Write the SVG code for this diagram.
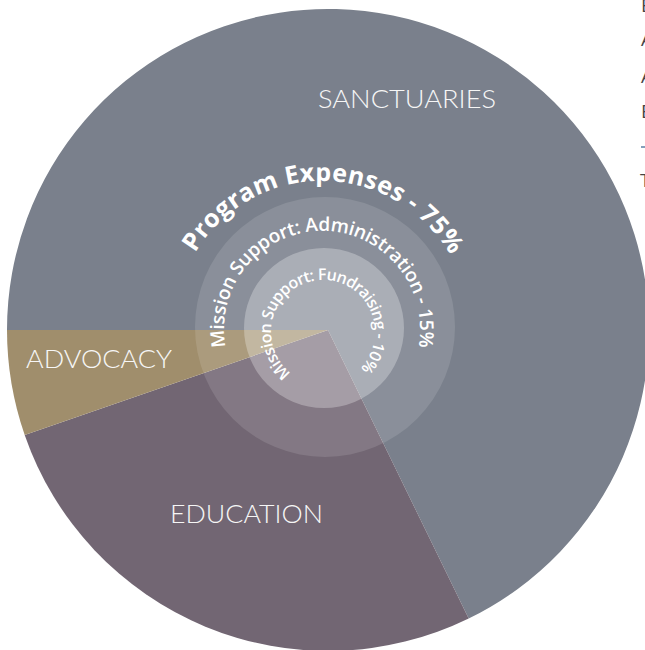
<svg xmlns="http://www.w3.org/2000/svg" width="645" height="650" viewBox="0 0 645 650">
  <defs>
    <style>
      .label { font-family: Lato, "Open Sans", "Liberation Sans", sans-serif; font-weight: 300; font-size: 25px; fill: #f6f6f6; }
      .arc { font-family: "Open Sans", "Liberation Sans", sans-serif; fill: #ffffff; }
      .side { font-family: "Open Sans", "Liberation Sans", sans-serif; font-size: 19px; fill: #454545; }
    </style>
    <path id="pProgram" d="M195.1,252.8 A148,148 0 0 1 448.9,405.2 A148,148 0 0 1 195.1,252.8"/>
    <path id="pAdmin" d="M225.6,346.9 A98,98 0 0 1 418.4,311.1 A98,98 0 0 1 225.6,346.9"/>
    <path id="pFund" d="M291,373 A52,52 0 0 1 355,291 A52,52 0 0 1 291,373"/>
  </defs>
  <rect width="645" height="650" fill="#ffffff"/>

  <g id="sanctuaries">
    <path d="M328,330 L7,330 A321,321 0 1 1 468.7,618.5 Z" fill="#7a808c"/>
  </g>
  <g id="education">
    <path d="M328,330 L468.7,618.5 A321,321 0 0 1 24.7,435 Z" fill="#726673"/>
  </g>
  <g id="advocacy">
    <path d="M328,330 L24.7,435 A321,321 0 0 1 7,330 Z" fill="#a08e6c"/>
  </g>

  <g id="ring-administration">
    <circle cx="325" cy="327" r="130" fill="#ffffff" fill-opacity="0.12"/>
  </g>
  <g id="ring-fundraising">
    <circle cx="324" cy="328" r="80" fill="#ffffff" fill-opacity="0.28"/>
  </g>

  <g id="labels">
    <text class="label" x="318" y="108" textLength="178" lengthAdjust="spacingAndGlyphs">SANCTUARIES</text>
    <text class="label" x="26" y="368" textLength="146" lengthAdjust="spacingAndGlyphs">ADVOCACY</text>
    <text class="label" x="170" y="523" textLength="153" lengthAdjust="spacingAndGlyphs">EDUCATION</text>
  </g>

  <g id="arc-labels">
    <text class="arc" font-size="25" font-weight="700" letter-spacing="0.3"><textPath href="#pProgram">Program Expenses - 75%</textPath></text>
    <text class="arc" font-size="19" font-weight="600" letter-spacing="-0.2"><textPath href="#pAdmin">Mission Support: Administration - 15%</textPath></text>
    <text class="arc" font-size="16" font-weight="600" letter-spacing="-0.6"><textPath href="#pFund">Mission Support: Fundraising - 10%</textPath></text>
  </g>

  <g id="side-text">
    <text class="side" x="641" y="12">E</text>
    <text class="side" x="641" y="46">A</text>
    <text class="side" x="641" y="83">A</text>
    <text class="side" x="641" y="118">E</text>
    <line x1="641" y1="147" x2="645" y2="147" stroke="#5b7fa3" stroke-width="1.5"/>
    <text class="side" x="640" y="187">T</text>
  </g>
</svg>
